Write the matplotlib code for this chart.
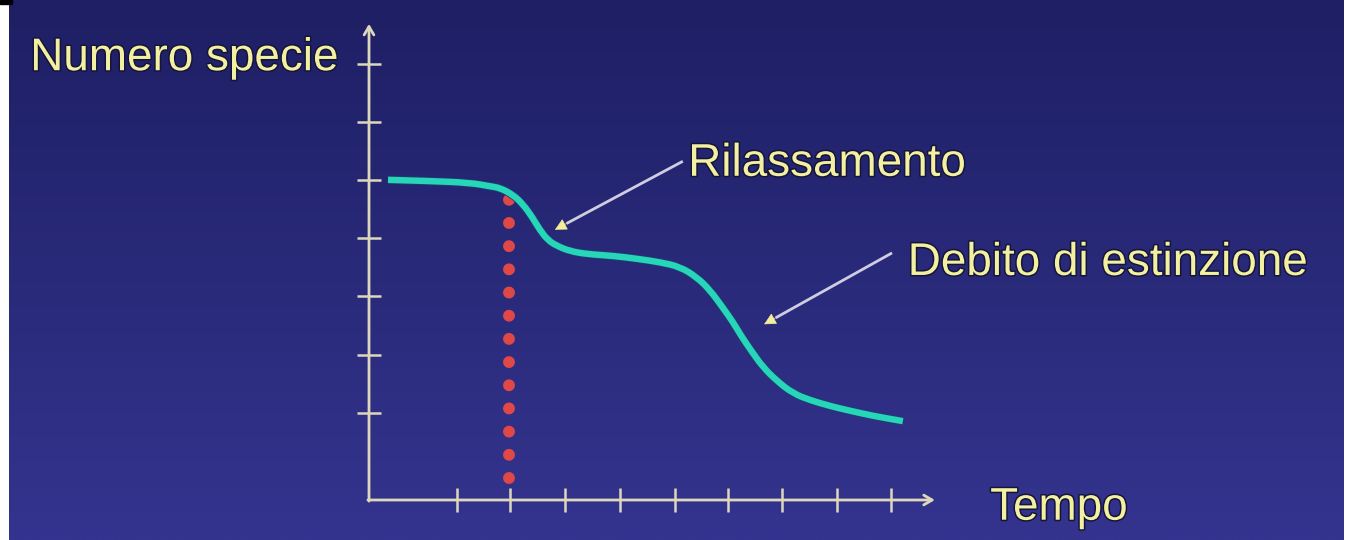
import numpy as np
import matplotlib.pyplot as plt
import matplotlib.patheffects as pe
from matplotlib.path import Path
from matplotlib.patches import PathPatch

plt.rcParams['font.family'] = ['Liberation Sans', 'DejaVu Sans']

# curve (time units, species units)
curve_x = [0.35, 1.13, 1.86, 2.23, 2.42, 2.66, 2.84, 3.01, 3.15, 3.30, 3.47, 3.71,
           4.02, 4.50, 4.94, 5.37, 5.74, 6.05, 6.29, 6.51, 6.70, 6.88, 7.07, 7.27,
           7.53, 7.82, 8.14, 8.51, 8.82, 9.30, 9.85]
curve_y = [5.52, 5.50, 5.47, 5.41, 5.38, 5.26, 5.10, 4.88, 4.66, 4.48, 4.38, 4.29,
           4.24, 4.21, 4.16, 4.10, 4.02, 3.84, 3.62, 3.34, 3.09, 2.81, 2.55, 2.29,
           2.05, 1.84, 1.72, 1.62, 1.55, 1.45, 1.36]

x_ticks = [1.62, 2.60, 3.62, 4.63, 5.65, 6.63, 7.62, 8.63, 9.63]
y_ticks = [1.50, 2.50, 3.52, 4.52, 5.52, 6.52, 7.52]

cut_x = 2.58
cut_y = [0.38, 5.19]

x_end = 10.44
y_end = 8.21

labels = {
    'y': ('Numero specie', -6.25, 7.41),
    'x': ('Tempo', 11.46, -0.34),
    'relax': ('Rilassamento', 5.89, 5.59),
    'debt': ('Debito di estinzione', 9.94, 3.88),
}
pointers = [((5.79, 5.84), (3.43, 4.66)),
            ((9.65, 4.26), (7.29, 3.03))]

axis_col = '#ddd8bc'
txt_col = '#f4f0a2'

fig = plt.figure(figsize=(13.56, 5.40), dpi=100)
fig.patch.set_facecolor('white')

# gradient background
bg = fig.add_axes([9 / 1356, 0, 1335 / 1356, 1])
grad = np.linspace(0, 1, 256).reshape(-1, 1)
top = np.array([30, 31, 100]) / 255
bot = np.array([52, 52, 143]) / 255
img = top + grad[..., None] * (bot - top)
bg.imshow(img, aspect='auto', extent=[0, 1, 0, 1], origin='upper')
bg.axis('off')
fig.patches.append(plt.Rectangle((0, 1 - 4 / 540), 12 / 1356, 4 / 540,
                                 transform=fig.transFigure, color='black'))

ax = fig.add_axes([0, 0, 1, 1])
ax.patch.set_alpha(0)
ax.set_xlim(-369 / 54.2, (1356 - 369) / 54.2)
ax.set_ylim(-40 / 58, 500 / 58)
ax.axis('off')

# axes with arrows
ax.annotate('', xy=(0, y_end), xytext=(0, -0.02),
            arrowprops=dict(arrowstyle='->,head_length=0.6,head_width=0.35',
                            color=axis_col, lw=2, shrinkA=0, shrinkB=0))
ax.annotate('', xy=(x_end, 0), xytext=(-0.02, 0),
            arrowprops=dict(arrowstyle='->,head_length=0.6,head_width=0.35',
                            color=axis_col, lw=2, shrinkA=0, shrinkB=0))
ax.vlines(x_ticks, -0.2, 0.2, color=axis_col, lw=1.8)
ax.hlines(y_ticks, -0.22, 0.22, color=axis_col, lw=1.8)

# dotted cut line
ax.plot([cut_x, cut_x], cut_y, color='#e04848', lw=8.6,
        linestyle=(0, (0.001, 1.94)), dash_capstyle='round', zorder=3)

# curve: read points used as a quadratic bezier control polygon
pts = np.column_stack([curve_x, curve_y])
verts = [pts[0]]
codes = [Path.MOVETO]
for i in range(1, len(pts) - 1):
    verts += [pts[i], (pts[i] + pts[i + 1]) / 2]
    codes += [Path.CURVE3, Path.CURVE3]
verts.append(pts[-1])
codes.append(Path.LINETO)
curve = PathPatch(Path(verts, codes), facecolor='none', edgecolor='#27d6b8',
                  lw=4.6, capstyle='butt', joinstyle='round', zorder=4,
                  path_effects=[pe.Stroke(linewidth=5.8, foreground='#1d3f74'),
                                pe.Normal()])
ax.add_patch(curve)

shadow = [pe.withStroke(linewidth=2.2, foreground='#15153a')]
for key in labels:
    s, tx, ty = labels[key]
    ax.text(tx, ty, s, fontsize=33, color=txt_col, va='baseline', ha='left',
            path_effects=shadow)

# pointer arrows: lavender shaft, yellow head
for start, tip in pointers:
    s = np.array(start)
    t = np.array(tip)
    base = t + (s - t) * 0.09
    ax.plot([s[0], base[0]], [s[1], base[1]], color='#cfcde2', lw=2,
            solid_capstyle='butt')
    ax.annotate('', xy=tip, xytext=tuple(base),
                arrowprops=dict(arrowstyle='-|>,head_length=0.75,head_width=0.38',
                                color='#f2ee9a', lw=0.5, shrinkA=0, shrinkB=0))

fig.savefig('out.png', dpi=100)
